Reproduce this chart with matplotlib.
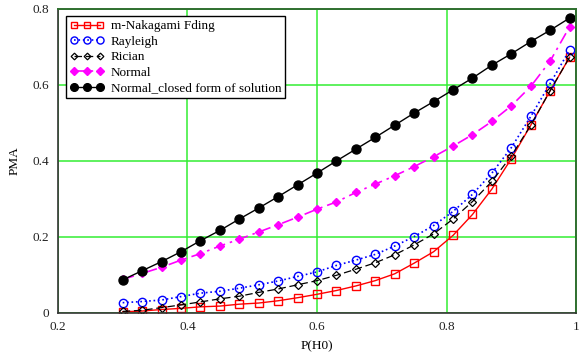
"""
PMA versus P(H0) for several fading models, redrawn from the reference figure.
Saves output to out.png.
"""

import matplotlib
matplotlib.use('Agg')
import matplotlib.pyplot as plt

# Detection probability grid
p_h0 = [0.30, 0.33, 0.36, 0.39, 0.42, 0.45, 0.48, 0.51, 0.54, 0.57, 0.60, 0.63,
        0.66, 0.69, 0.72, 0.75, 0.78, 0.81, 0.84, 0.87, 0.90, 0.93, 0.96, 0.99]

nakagami = [0.003, 0.005, 0.009, 0.012, 0.016, 0.018, 0.023, 0.026, 0.032, 0.040,
            0.049, 0.059, 0.071, 0.085, 0.103, 0.131, 0.161, 0.204, 0.259, 0.326,
            0.406, 0.494, 0.585, 0.673]
rayleigh = [0.027, 0.030, 0.034, 0.043, 0.052, 0.057, 0.065, 0.074, 0.084, 0.096,
            0.108, 0.125, 0.139, 0.154, 0.176, 0.201, 0.230, 0.267, 0.312, 0.368,
            0.435, 0.517, 0.604, 0.692]
rician = [0.004, 0.007, 0.014, 0.021, 0.029, 0.037, 0.044, 0.054, 0.063, 0.074,
          0.085, 0.099, 0.115, 0.132, 0.153, 0.179, 0.208, 0.247, 0.293, 0.346,
          0.413, 0.494, 0.585, 0.673]
normal = [0.088, 0.104, 0.120, 0.139, 0.156, 0.176, 0.194, 0.213, 0.232, 0.252,
          0.273, 0.292, 0.317, 0.339, 0.361, 0.385, 0.411, 0.439, 0.469, 0.504,
          0.545, 0.596, 0.663, 0.753]
normal_closed = [0.087, 0.111, 0.135, 0.161, 0.190, 0.217, 0.247, 0.276, 0.306, 0.337,
                 0.368, 0.400, 0.431, 0.462, 0.494, 0.526, 0.556, 0.587, 0.618, 0.652,
                 0.682, 0.714, 0.744, 0.776]

x_ticks = [0.2, 0.4, 0.6, 0.8, 1.0]
x_tick_labels = ['0.2', '0.4', '0.6', '0.8', '1']
y_ticks = [0, 0.2, 0.4, 0.6, 0.8]
y_tick_labels = ['0', '0.2', '0.4', '0.6', '0.8']

plt.rcParams['font.family'] = ['Liberation Serif', 'DejaVu Serif']

fig = plt.figure(figsize=(5.79, 3.56), dpi=100)
ax = fig.add_axes([0.100, 0.121, 0.895, 0.854])

ax.plot(p_h0, nakagami, color='red', linewidth=1, marker='s', markersize=5.5,
        markerfacecolor='none', markeredgecolor='red', markeredgewidth=1,
        label='m-Nakagami Fding')
ax.plot(p_h0, rayleigh, color='blue', linewidth=1.2, linestyle=':', marker='o',
        markersize=6, markerfacecolor='none', markeredgecolor='blue',
        markeredgewidth=1, label='Rayleigh')
ax.plot(p_h0, rician, color='black', linewidth=0.9, linestyle=(0, (6, 3)),
        marker='D', markersize=4, markerfacecolor='none', markeredgecolor='black',
        markeredgewidth=0.9, label='Rician')
ax.plot(p_h0, normal, color='magenta', linewidth=1.2, linestyle=(0, (7, 3, 1.5, 3)),
        marker='D', markersize=4.5, markerfacecolor='magenta',
        markeredgecolor='magenta', label='Normal')
ax.plot(p_h0, normal_closed, color='black', linewidth=1, marker='o',
        markersize=6.5, markerfacecolor='black', markeredgecolor='black',
        label='Normal_closed form of solution')

ax.set_xlim(0.2, 1.0)
ax.set_ylim(0, 0.8)
ax.set_xticks(x_ticks)
ax.set_xticklabels(x_tick_labels)
ax.set_yticks(y_ticks)
ax.set_yticklabels(y_tick_labels)
ax.tick_params(length=0, labelsize=9.5, colors='#222222', pad=6)
ax.grid(True, color='#33ee33', linewidth=1.1)
ax.set_axisbelow(True)

for side in ['top', 'right']:
    ax.spines[side].set_color('#2f6f2f')
    ax.spines[side].set_linewidth(1.4)
for side in ['bottom', 'left']:
    ax.spines[side].set_color('#333333')
    ax.spines[side].set_linewidth(1.2)

ax.set_xlabel('P(H0)', fontsize=9.5, labelpad=5)
ax.set_ylabel('PMA', fontsize=9.5, labelpad=9)

leg = ax.legend(loc='upper left', bbox_to_anchor=(0.01, 0.985), numpoints=3,
                fontsize=9.5, fancybox=False, framealpha=1, edgecolor='black',
                handlelength=2.6, handletextpad=0.5, borderpad=0.3,
                labelspacing=0.25, borderaxespad=0.2, markerscale=0.85)
leg.get_frame().set_linewidth(1)

fig.savefig('out.png', dpi=100)
